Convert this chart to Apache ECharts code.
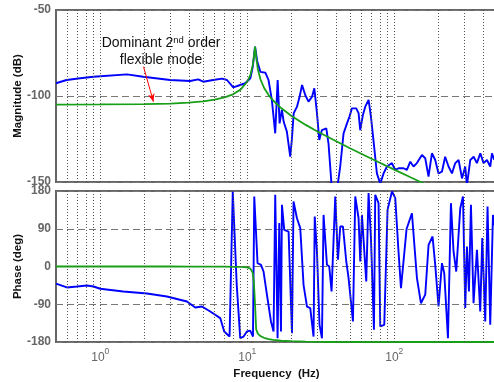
<!DOCTYPE html>
<html><head><meta charset="utf-8">
<script src="https://cdn.jsdelivr.net/npm/echarts@6/dist/echarts.min.js"></script>
<style>html,body{margin:0;padding:0;background:#fff}#c{width:494px;height:382px}</style>
</head><body><div id="c"></div>
<script>
// ---- data ----
const freqModel = [0.5,1,2,3,4,5,6,7,8,9,10,10.5,10.9,11.1,11.3,11.5,11.8,12.3,13,14,15,17,20,25,30,40,50,70,100,130,160,200,300,500];
const magModel = [-105.0,-104.9,-104.7,-104.4,-103.8,-103.1,-102.1,-100.8,-99.0,-96.3,-91.7,-87.8,-82.2,-77.2,-71.3,-77.4,-84.4,-90.3,-95.2,-99.6,-102.6,-107.0,-111.6,-116.8,-120.6,-126.2,-130.4,-136.5,-142.8,-147.4,-151,-155,-162,-171];
const phaseModel = [0,0,0,0,-0.5,-0.5,-0.5,-0.5,-1,-1,-2,-5,-15,-40,-90,-150,-160,-166,-170,-173,-175,-177,-178,-179,-179.5,-180,-180,-180,-180,-180,-180,-180,-180,-180];

const freqMagMeas = [0.5,0.59,0.73,0.9,1.52,1.96,2.99,4.09,4.64,5.02,5.87,6.73,7.28,8.03,8.96,9.69,10.5,10.9,11.3,11.7,12.3,13.3,13.95,14.7,15.5,16.1,16.6,17.2,17.7,18.6,19.6,20.1,20.7,21.8,22.7,23.6,24.8,26.1,27.6,28.6,29.8,30.9,32.2,34.5,35.7,37.7,40.7,42.9,45.2,47.7,49.6,51.5,55.1,57.2,58.7,61.2,63.5,66.9,69.4,72.2,76.2,80.3,84.6,89.2,96.4,101.6,107,115.7,121.9,128.5,135.3,142.6,154.3,162.5,171.1,180.4,190,200,211,222,234,247,260,274,289,304,312,329,347,365,385,405,427,450,462,479,500];
const magMeas = [-92.6,-90.7,-89.7,-88.8,-87.4,-88.8,-90.7,-91.3,-90.3,-91.7,-90.7,-89.9,-90.7,-95,-93.6,-92.6,-89.7,-83,-71.3,-80,-86,-86.5,-90.7,-102.3,-121.7,-90.7,-115.9,-108,-115,-120.7,-135.3,-125.6,-110,-106.2,-100.4,-93.6,-99.4,-103.3,-100.4,-95.5,-110,-125.6,-119.8,-118.8,-127.5,-155,-155,-141,-121.7,-115.9,-112,-107.2,-107.2,-110,-119.8,-111,-106.2,-102.3,-112,-125.6,-145,-151,-145,-141,-139,-143,-142,-142,-143,-138.2,-141,-139,-134.3,-136.2,-146.9,-133.3,-137.2,-145,-144,-135.3,-141,-145,-139,-137.2,-147.9,-141,-152,-137.2,-135.3,-139,-133.3,-139,-137.2,-141,-133.3,-137,-135];

const freqPhaseMeas = [0.5,0.593,0.694,0.812,0.9,1.0,1.434,2.08,2.84,3.89,4.43,4.92,5.60,6.55,6.97,7.58,7.97,8.48,8.96,9.44,9.95,10.48,10.94,11.16,11.75,12.40,12.91,13.61,14.50,15.10,15.50,16.08,16.51,16.96,17.22,17.85,19.10,20.15,20.65,21.78,22.94,24.15,25.48,26.83,28.25,28.78,29.80,31.02,32.23,33.04,34.85,36.13,37.46,39.69,41.40,42.93,44.77,47.16,48.89,50.21,52.36,54.29,57.17,58.72,60.30,64.49,66.87,69.43,72.76,74.25,78.20,80.32,85.51,90.04,96.47,101.6,106.9,111.1,121.3,131.9,142.7,151.9,162.5,171.2,182.2,190.0,200.1,211.1,218.9,231.9,243.0,253.1,264.1,281.2,293.4,304.1,312.3,322.2,332.5,346.3,365.2,384.6,396.9,415.9,431.2,449.8,469.3,484.2,500];
const phaseMeas = [-41,-50,-47.7,-45.3,-47.7,-53,-59.6,-64.4,-71.5,-83.4,-97.7,-95.4,-107.3,-123,-155,-166.9,178.8,-43.6,-170.7,-167,-155,-153,-167,167,8,4,-12,-67,-131,-155,171,-171,103.5,-155,147,87.5,83.4,-159,155,115,91.5,-43.6,-95.4,-99,-167,119,35.8,-139,-171,123,4,0,-59.6,167,16,95.4,95.4,12,-27.6,-31.8,-131,167,115,12,123,-35.8,175,67.6,-151,171,151,-143,-139,135,179,163,35.8,-51.5,89.5,127,-27.6,-87.5,-67,51.7,71.5,4,-95.4,8,-16,-171,151,35.8,-12,139,167,-99,47.7,-59.6,147,-87.5,39.8,-107,67.6,-131,143,-139,123,95.4,80];

const freqGridLines = [0.6,0.7,0.8,0.9,1,2,3,4,5,6,7,8,9,10,20,30,40,50,60,70,80,90,100,200,300,400];
const annotationLines = ['Dominant 2', 'nd', ' order', 'flexible mode'];
const arrowFrom = [1.97, -83];
const arrowTo = [2.3, -103.3];

// ---- chart ----
const FONT = "'Liberation Sans', Arial, Helvetica, sans-serif";
const pair = (xs, ys) => xs.map((x, i) => [x, ys[i]]);
const isDecade = v => Math.abs(Math.log10(v) - Math.round(Math.log10(v))) < 1e-6;
const BLUE = '#0000ff', GREEN = '#17a017';

const xBase = {
  type: 'log', logBase: 10, min: 0.5, max: 500,
  splitLine: { show: false }, axisTick: { show: false }, axisLine: { show: false },
  minorTick: { show: false }, minorSplitLine: { show: false }
};
const yBase = {
  type: 'value', axisTick: { show: false }, axisLine: { show: false },
  splitLine: { show: true, lineStyle: { color: '#777', width: 1, type: [7, 4] } },
  axisLabel: { color: '#666', fontWeight: 'bold', fontSize: 12, fontFamily: FONT, margin: 5 },
  nameLocation: 'middle', nameGap: 32, nameMoveOverlap: false,
  nameTextStyle: { color: '#111', fontWeight: 'bold', fontSize: 11.5, fontFamily: FONT }
};
const gridMarks = gi => ({
  type: 'line', xAxisIndex: gi, yAxisIndex: gi, data: [], silent: true, z: 1,
  markLine: {
    silent: true, symbol: ['none', 'none'], label: { show: false }, animation: false,
    lineStyle: { color: '#555', width: 1, type: [1, 2] },
    data: freqGridLines.map(f => ({ xAxis: f }))
  }
});

const chart = echarts.init(document.getElementById('c'), null, { renderer: 'canvas' });
chart.setOption({
  animation: false,
  backgroundColor: '#fff',
  grid: [
    { left: 56, top: 10, width: 441, height: 172, show: true, borderColor: '#666', borderWidth: 2, backgroundColor: '#fff', outerBoundsMode: 'none' },
    { left: 56, top: 191, width: 441, height: 151, show: true, borderColor: '#666', borderWidth: 2, backgroundColor: '#fff', outerBoundsMode: 'none' }
  ],
  xAxis: [
    Object.assign({}, xBase, { gridIndex: 0, axisLabel: { show: false } }),
    Object.assign({}, xBase, {
      gridIndex: 1,
      name: 'Frequency  (Hz)', nameLocation: 'middle', nameGap: 26, nameMoveOverlap: false,
      nameTextStyle: { color: '#111', fontWeight: 'bold', fontSize: 11.5, fontFamily: FONT },
      axisLabel: {
        margin: 5, showMinLabel: false, showMaxLabel: false,
        formatter: v => isDecade(v) ? '{b|10}{s|' + Math.round(Math.log10(v)) + '}' : '',
        rich: {
          b: { fontSize: 12, color: '#666', fontFamily: FONT, lineHeight: 22 },
          s: { fontSize: 8.5, color: '#666', fontFamily: FONT, verticalAlign: 'top' }
        }
      }
    })
  ],
  yAxis: [
    Object.assign({}, yBase, { gridIndex: 0, min: -150, max: -50, interval: 50, name: 'Magnitude (dB)' }),
    Object.assign({}, yBase, { gridIndex: 1, min: -180, max: 180, interval: 90, name: 'Phase (deg)' })
  ],
  series: [
    gridMarks(0),
    gridMarks(1),
    { type: 'line', xAxisIndex: 0, yAxisIndex: 0, data: pair(freqMagMeas, magMeas), showSymbol: false, z: 3,
      lineStyle: { color: BLUE, width: 1.9 }, clip: true },
    { type: 'line', xAxisIndex: 0, yAxisIndex: 0, data: pair(freqModel, magModel), showSymbol: false, z: 4,
      lineStyle: { color: GREEN, width: 1.8 }, clip: true,
      markLine: {
        silent: true, symbol: ['none', 'arrow'], symbolSize: [5, 8], label: { show: false },
        lineStyle: { color: '#ff0000', width: 1, type: 'solid' },
        data: [[{ coord: arrowFrom }, { coord: arrowTo }]]
      } },
    { type: 'line', xAxisIndex: 1, yAxisIndex: 1, data: pair(freqPhaseMeas, phaseMeas), showSymbol: false, z: 3,
      lineStyle: { color: BLUE, width: 1.9 }, clip: true },
    { type: 'line', xAxisIndex: 1, yAxisIndex: 1, data: pair(freqModel, phaseModel), showSymbol: false, z: 4,
      lineStyle: { color: GREEN, width: 1.8 }, clip: true }
  ],
  graphic: [{
    type: 'text', x: 161, y: 52, z: 10, silent: true,
    style: {
      text: '{n|' + annotationLines[0] + '}{s|' + annotationLines[1] + '}{n|' + annotationLines[2] + '}\n{n|' + annotationLines[3] + '}',
      align: 'center', verticalAlign: 'middle',
      rich: {
        n: { fontSize: 14, fontFamily: FONT, fill: '#111', color: '#111', lineHeight: 17 },
        s: { fontSize: 9.5, fontFamily: FONT, fill: '#111', color: '#111', verticalAlign: 'top' }
      }
    }
  }]
});
</script>
</body></html>
